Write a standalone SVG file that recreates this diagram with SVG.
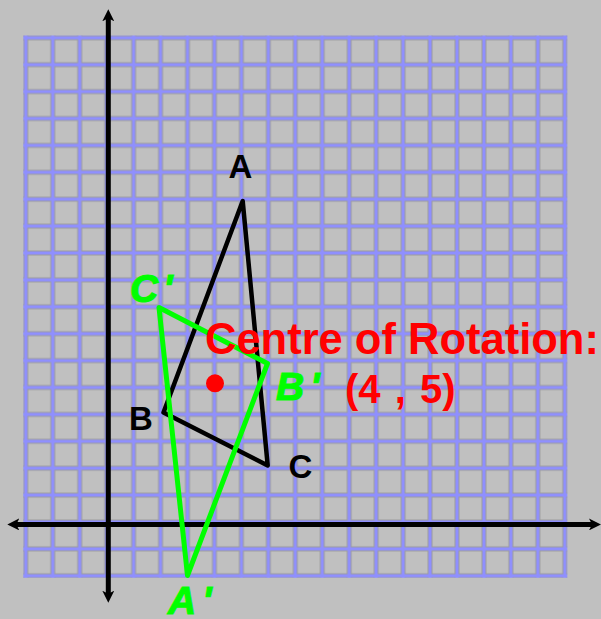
<svg xmlns="http://www.w3.org/2000/svg" width="601" height="619" viewBox="0 0 601 619">
  <style>
    .lbl { font-family: "Liberation Sans", Arial, sans-serif; font-weight: bold; }
    .blk { fill: #000000; font-size: 33px; text-anchor: middle; }
    .grn { fill: #00ff00; stroke: #00ff00; stroke-width: 1.2; font-size: 39px; font-style: italic; }
    .red { fill: #ff0000; }
    .axis { stroke: #000000; stroke-width: 5; fill: none; }
    .tri { fill: none; stroke-linejoin: round; stroke-linecap: round; }
  </style>
  <defs>
    <pattern id="cells" patternUnits="userSpaceOnUse" x="25.8" y="37.8" width="26.95" height="26.9">
      <rect x="2" y="2" width="22.95" height="22.9" fill="#c0c0c0" stroke="#9c9c9c" stroke-width="1"/>
    </pattern>
    <marker id="arr" viewBox="0 0 12 12" markerUnits="userSpaceOnUse" markerWidth="12" markerHeight="12" refX="4" refY="6" orient="auto-start-reverse">
      <path d="M0,0 L12,6 L0,12 L3,6 Z" fill="#000000"/>
    </marker>
  </defs>

  <rect x="0" y="0" width="601" height="619" fill="#c0c0c0"/>

  <g id="grid">
    <rect x="23.3" y="35.5" width="544" height="542.3" fill="#8f8fff"/>
    <rect x="23.3" y="35.5" width="544" height="542.3" fill="url(#cells)"/>
  </g>

  <g id="axes">
    <line class="axis" x1="108.3" y1="17.3" x2="108.3" y2="594.7" marker-start="url(#arr)" marker-end="url(#arr)"/>
    <line class="axis" x1="15.3" y1="524.4" x2="593" y2="524.4" stroke-width="4.5" marker-start="url(#arr)" marker-end="url(#arr)"/>
  </g>

  <g id="connectors">
    <polygon id="triangle-ABC" class="tri" points="242.7,201 163.5,412.5 267.7,465.5" stroke="#000000" stroke-width="4.5"/>
    <polygon id="triangle-A1B1C1" class="tri" points="159,307.5 267.5,363.5 187.5,575.5" stroke="#00ff00" stroke-width="5"/>
  </g>

  <g id="centre">
    <circle cx="215" cy="383.3" r="9" fill="#ff0000"/>
  </g>

  <g id="node-A"><text class="lbl blk" x="240.5" y="178">A</text></g>
  <g id="node-B"><text class="lbl blk" x="141" y="430">B</text></g>
  <g id="node-C"><text class="lbl blk" x="300.5" y="478">C</text></g>

  <g id="node-A1"><text class="lbl grn" x="168" y="614" font-size="38">A<tspan dx="6">'</tspan></text></g>
  <g id="node-B1"><text class="lbl grn" x="276" y="400">B<tspan dx="6">'</tspan></text></g>
  <g id="node-C1"><text class="lbl grn" x="130" y="302">C<tspan dx="5">'</tspan></text></g>

  <g id="centre-label">
    <text class="lbl red" x="205" y="354" font-size="43.5">Centre of Rotation:</text>
    <text class="lbl red" x="345" y="403" font-size="40" word-spacing="3">(4 , 5)</text>
  </g>
</svg>
